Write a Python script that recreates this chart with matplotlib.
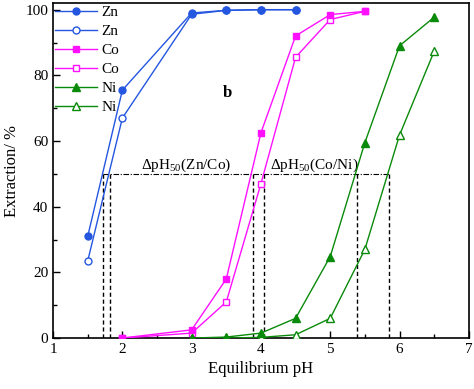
import matplotlib.pyplot as plt

plt.rcParams['font.family'] = ['Liberation Serif', 'DejaVu Serif']
plt.rcParams['mathtext.fontset'] = 'custom'
plt.rcParams['mathtext.rm'] = 'Liberation Serif'

# ---------- Data ----------
phZn = [1.5, 2, 3, 3.5, 4, 4.5]
znA = [31, 75.5, 99, 99.8, 100, 100]
znB = [23.5, 67, 98.6, 99.8, 100, 100]

phCo = [2, 3, 3.5, 4, 4.5, 5, 5.5]
coA = [0, 2.5, 18, 62.5, 92, 98.5, 99.5]
coB = [0, 1.5, 11, 47, 85.5, 97, 99.5]

phNi = [3, 3.5, 4, 4.5, 5, 5.5, 6, 6.5]
niA = [0, 0.3, 1.5, 6, 24.8, 59.5, 89, 97.7]
niB = [0, 0, 0.2, 1, 6, 27, 61.8, 87.3]

ph50 = [1.72, 1.82, 3.88, 4.04, 5.38, 5.85]

blue = '#2456e0'
magenta = '#ff10ff'
green = '#0a8a0a'

fig = plt.figure(figsize=(4.74, 3.89), dpi=100)
ax = fig.add_axes([0.112, 0.131, 0.877, 0.861])

lw = 1.0
# open markers drawn below the filled ones
ax.plot(phZn, znA, '-o', color=blue, mfc=blue, ms=5, lw=lw, label='Zn', zorder=4)
ax.plot(phZn, znB, '-o', color=blue, mfc='white', ms=5, lw=lw, label='Zn', zorder=3)
ax.plot(phCo, coA, '-s', color=magenta, mfc=magenta, ms=4.5, lw=lw, label='Co', zorder=4)
ax.plot(phCo, coB, '-s', color=magenta, mfc='white', ms=4.5, lw=lw, label='Co', zorder=3)
ax.plot(phNi, niA, '-^', color=green, mfc=green, ms=6, lw=lw, label='Ni', zorder=4)
ax.plot(phNi, niB, '-^', color=green, mfc='white', ms=6, lw=lw, label='Ni', zorder=3)

# pH50 guide lines
ax.plot([ph50[0], ph50[-1]], [50, 50], color='black', lw=0.8,
        linestyle=(0, (5, 1.5, 1, 1.5)))
for x in ph50:
    ax.plot([x, x], [0, 50], color='black', lw=1.0, linestyle=(0, (3, 2)))

ax.text(2.27, 51.5, r'$\Delta$pH$_{50}$(Zn/Co)', fontsize=11)
ax.text(4.13, 51.5, r'$\Delta$pH$_{50}$(Co/Ni)', fontsize=11)
ax.text(3.52, 74.5, 'b', fontsize=12, fontweight='bold', ha='center', va='center')

ax.set_xlim(1, 7)
ax.set_ylim(0, 102)
ax.set_xticks([1, 2, 3, 4, 5, 6, 7])
ax.set_xticks([1.5, 2.5, 3.5, 4.5, 5.5, 6.5], minor=True)
ax.set_yticks([0, 20, 40, 60, 80, 100])
ax.set_yticks([10, 30, 50, 70, 90], minor=True)
ax.tick_params(direction='in', which='major', length=5, width=1, labelsize=11)
ax.tick_params(direction='in', which='minor', length=3, width=1)
for s in ax.spines.values():
    s.set_linewidth(1.2)

ax.set_xlabel('Equilibrium pH', fontsize=12)
ax.set_ylabel('Extraction/ %', fontsize=12)

ax.legend(loc='upper left', frameon=False, fontsize=11, handlelength=2.7,
          handletextpad=0.3, labelspacing=0.35, borderaxespad=0.05,
          borderpad=0.1)

fig.savefig('out.png', dpi=100)
